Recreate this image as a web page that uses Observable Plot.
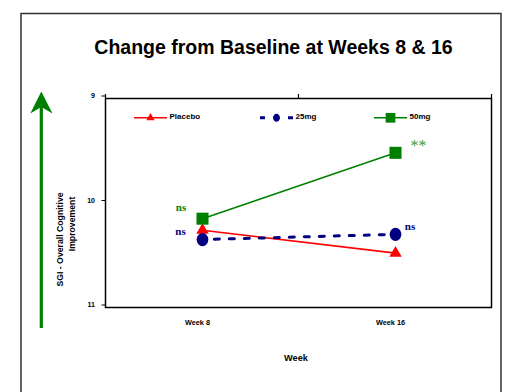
<!DOCTYPE html>
<html><head><meta charset="utf-8">
<script src="https://cdn.jsdelivr.net/npm/d3@7"></script>
<script src="https://cdn.jsdelivr.net/npm/@observablehq/plot@0.6"></script>
<style>
html,body{margin:0;padding:0;background:#fff;}
#wrap{position:relative;width:509px;height:392px;overflow:hidden;font-family:Arial,"Liberation Sans",sans-serif;}
#wrap svg{position:absolute;left:0;top:0;}
</style></head><body><div id="wrap"></div>
<script>
// ---- data ----
const weeks = ["Week 8", "Week 16"];
const seriesNames = ["Placebo", "25mg", "50mg"];
const placebo = [10.26, 10.48];
const mg25 = [10.35, 10.30];
const mg50 = [10.15, 9.52];
const yTicks = [9, 10, 11];
const title = "Change from Baseline at Weeks 8 & 16";
const yTitle = ["SGI - Overall Cognitive", "Improvement"];
const xTitle = "Week";
const notes = [
  {series: "50mg", week: "Week 8", label: "ns"},
  {series: "25mg", week: "Week 8", label: "ns"},
  {series: "25mg", week: "Week 16", label: "ns"},
  {series: "50mg", week: "Week 16", label: "**"}
];

const RED = "#ff0000", NAVY = "#000080", GREEN = "#008000";
const seriesValues = {Placebo: placebo, "25mg": mg25, "50mg": mg50};
const rows = seriesNames.flatMap(s => weeks.map((w, j) => ({series: s, week: w, value: seriesValues[s][j]})));
const bySeries = s => rows.filter(d => d.series === s);
const noteRows = notes.map(n => ({...n, value: seriesValues[n.series][weeks.indexOf(n.week)]}));
const noteOf = (s, w) => noteRows.filter(d => d.series === s && d.week === w);

const ellipse = {
  draw(ctx, size) {
    const r = Math.sqrt(size / Math.PI), rx = r * 0.87, ry = r, k = 0.5523;
    ctx.moveTo(rx, 0);
    ctx.bezierCurveTo(rx, k * ry, k * rx, ry, 0, ry);
    ctx.bezierCurveTo(-k * rx, ry, -rx, k * ry, -rx, 0);
    ctx.bezierCurveTo(-rx, -k * ry, -k * rx, -ry, 0, -ry);
    ctx.bezierCurveTo(k * rx, -ry, rx, -k * ry, rx, 0);
    ctx.closePath();
  }
};
const serif = "'Liberation Serif','Times New Roman',serif";

const chart = Plot.plot({
  width: 509, height: 392,
  marginLeft: 105, marginRight: 18, marginTop: 98, marginBottom: 85,
  style: {fontFamily: "Arial,'Liberation Sans',sans-serif", background: "transparent", color: "black"},
  x: {type: "point", domain: weeks, padding: 0.5},
  y: {domain: [9, 11], reverse: true},
  marks: [
    Plot.frame({stroke: "black", strokeWidth: 1.5}),
    Plot.axisY({ticks: yTicks, tickFormat: d3.format("d"), tickSize: 3.5, tickPadding: 7, fontSize: 7, fontWeight: "bold", dy: -2.5, label: null}),
    Plot.axisX({tickSize: 0, tickPadding: 12, fontSize: 7.3, fontWeight: "bold", dx: -5, label: null}),
    Plot.line(bySeries("Placebo"), {x: "week", y: "value", stroke: RED, strokeWidth: 1.6}),
    Plot.dot(bySeries("Placebo"), {x: "week", y: "value", symbol: "triangle", r: 4.6, fill: RED, stroke: "none"}),
    Plot.line(bySeries("25mg"), {x: "week", y: "value", stroke: NAVY, strokeWidth: 3, strokeDasharray: "5,10", strokeDashoffset: 3.2}),
    Plot.dot(bySeries("25mg"), {x: "week", y: "value", symbol: ellipse, r: 6.7, fill: NAVY, stroke: "none"}),
    Plot.line(bySeries("50mg"), {x: "week", y: "value", stroke: GREEN, strokeWidth: 1.6}),
    Plot.dot(bySeries("50mg"), {x: "week", y: "value", symbol: "square", r: 6.8, fill: GREEN, stroke: "none"}),
    Plot.text(noteOf("50mg", "Week 8"), {x: "week", y: "value", text: "label", dx: -21.5, dy: -11, fill: GREEN, fontFamily: serif, fontWeight: "bold", fontSize: 11}),
    Plot.text(noteOf("25mg", "Week 8"), {x: "week", y: "value", text: "label", dx: -22, dy: -8.5, fill: NAVY, fontFamily: serif, fontWeight: "bold", fontSize: 11}),
    Plot.text(noteOf("25mg", "Week 16"), {x: "week", y: "value", text: "label", dx: 14.5, dy: -7.5, fill: NAVY, fontFamily: serif, fontWeight: "bold", fontSize: 11}),
    Plot.text(noteOf("50mg", "Week 16"), {x: "week", y: "value", text: "label", dx: 23, dy: -7, fill: "#3a9a3a", fontFamily: serif, fontSize: 16})
  ]
});

const wrap = document.getElementById("wrap");
wrap.appendChild(chart);

// top axis tick marks at category boundaries, from the chart's scales
const sx = chart.scale("x"), sy = chart.scale("y");
const step = sx.apply(weeks[1]) - sx.apply(weeks[0]);
const bounds = [sx.apply(weeks[0]) - step / 2, (sx.apply(weeks[0]) + sx.apply(weeks[1])) / 2, sx.apply(weeks[1]) + step / 2];
const frameTop = sy.apply(9);
d3.select(chart).append("g").selectAll("line").data(bounds).join("line")
  .attr("x1", d => d).attr("x2", d => d).attr("y1", frameTop - 4).attr("y2", frameTop)
  .attr("stroke", "black").attr("stroke-width", 1.2);

// overlay: border, title, arrow, axis titles, legend
const ov = d3.create("svg").attr("width", 509).attr("height", 392)
  .style("font-family", "Arial,'Liberation Sans',sans-serif");
ov.append("rect").attr("x", 21).attr("y", 13.5).attr("width", 480).attr("height", 420)
  .attr("fill", "none").attr("stroke", "#333").attr("stroke-width", 1.5);
ov.append("text").attr("x", 273.5).attr("y", 53.5).attr("text-anchor", "middle")
  .attr("font-size", 19.5).attr("font-weight", "bold").text(title);
// green arrow
ov.append("line").attr("x1", 41.3).attr("x2", 41.3).attr("y1", 328).attr("y2", 104)
  .attr("stroke", GREEN).attr("stroke-width", 3.2);
ov.append("path").attr("d", "M41.3,91.5 L52.5,113.5 L41.3,107 L30.3,113.5 Z").attr("fill", GREEN);
// y title
ov.append("text").attr("transform", "translate(62.5,239.5) rotate(-90)").attr("text-anchor", "middle")
  .attr("font-size", 8.7).attr("font-weight", "bold").text(yTitle[0]);
ov.append("text").attr("transform", "translate(75,224) rotate(-90)").attr("text-anchor", "middle")
  .attr("font-size", 8.7).attr("font-weight", "bold").text(yTitle[1]);
// x title
ov.append("text").attr("x", 296).attr("y", 361).attr("text-anchor", "middle")
  .attr("font-size", 9.2).attr("font-weight", "bold").text(xTitle);
// legend
const legX = [134, 260, 374];
const legStyle = {
  Placebo: {color: RED, sym: d3.symbolTriangle, size: 30, dash: null, w: 1.6},
  "25mg": {color: NAVY, sym: ellipse, size: 50, dash: "5,9", w: 3},
  "50mg": {color: GREEN, sym: d3.symbolSquare, size: 95, dash: null, w: 1.6}
};
seriesNames.forEach((s, i) => {
  const st = legStyle[s], x0 = legX[i], y0 = 117.8;
  const g = ov.append("g");
  g.append("line").attr("x1", x0).attr("x2", x0 + 33).attr("y1", y0).attr("y2", y0)
    .attr("stroke", st.color).attr("stroke-width", st.w).attr("stroke-dasharray", st.dash);
  g.append("path").attr("transform", `translate(${x0 + 16.5},${y0})`)
    .attr("d", d3.symbol(st.sym, st.size)()).attr("fill", st.color);
  g.append("text").attr("x", x0 + 35.5).attr("y", y0 + 0.8).attr("font-size", 8)
    .attr("font-weight", "bold").text(s);
});
wrap.appendChild(ov.node());
</script>
</body></html>
